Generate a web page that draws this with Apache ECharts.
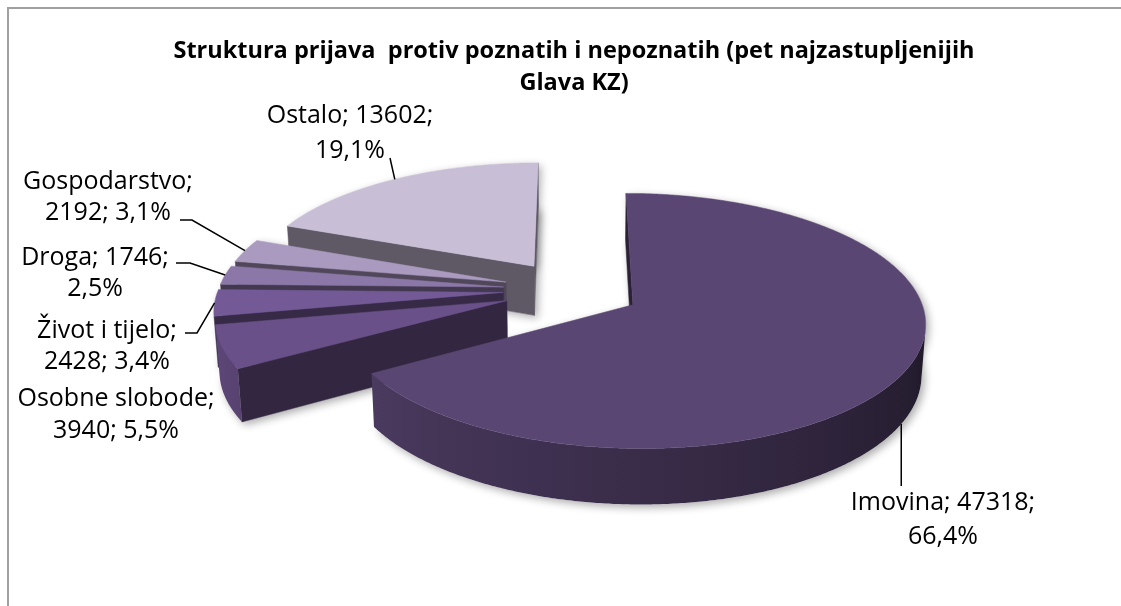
<!DOCTYPE html>
<html><head><meta charset="utf-8">
<script src="https://cdn.jsdelivr.net/npm/echarts@6/dist/echarts.min.js"></script>
<style>html,body{margin:0;padding:0;background:#fff}#chart{width:1121px;height:606px}</style>
</head><body><div id="chart"></div>
<script>
// ---- data ----
const categories = ['Imovina', 'Osobne slobode', 'Život i tijelo', 'Droga', 'Gospodarstvo', 'Ostalo'];
const values = [47318, 3940, 2428, 1746, 2192, 13602];
const titleLines = ['Struktura prijava  protiv poznatih i nepoznatih (pet najzastupljenijih', 'Glava KZ)'];

// ---- style / layout ----
const colors = ['#5A4673', '#6A5088', '#735A97', '#8C78A8', '#AA9AC0', '#C8BED6'];
const FONT = '"Open Sans", "Noto Sans", sans-serif';
const LABEL_SIZE = 25;
// label block: x center, y of first line centre, gap between lines, where the line breaks, leader points
const labelLayout = {
  'Imovina':        { x: 943, y: 503, gap: 34, brk: 'afterValue', leader: 'vertical', leaderY: 486, level: 'bottom' },
  'Osobne slobode': { x: 116, y: 399, gap: 32, brk: 'afterName', leader: null },
  'Život i tijelo': { x: 107, y: 331, gap: 31, brk: 'afterName', leader: [[185, 333], [197, 333]], level: 'top' },
  'Droga':          { x: 95,  y: 258, gap: 31, brk: 'afterValue', leader: [[176, 263], [190, 263]], level: 'top' },
  'Gospodarstvo':   { x: 108, y: 182, gap: 31, brk: 'afterName', leader: [[180, 220], [192, 220]], level: 'top' },
  'Ostalo':         { x: 350, y: 116, gap: 35, brk: 'afterValue', leader: [[390, 158]], level: 'top' }
};
// 3D view
const V = { cx: 572, cy: 290, R: 285, h: 56, beta: 25.3, D: 2064, explode: 69 };
const sinB = Math.sin(V.beta * Math.PI / 180), cosB = Math.cos(V.beta * Math.PI / 180);
const cam = [0, V.D * sinB, V.D * cosB];

function proj(p) {
  const X = p[0], Y = p[1], Z = p[2];
  const d = Z * cosB + Y * sinB;
  const k = V.D / (V.D - d);
  return [V.cx + k * X, V.cy + k * (Z * sinB - Y * cosB)];
}
const rad = a => a * Math.PI / 180;
function shadeColor(hex, f) {
  const n = parseInt(hex.slice(1), 16);
  const r = Math.round(((n >> 16) & 255) * f), g = Math.round(((n >> 8) & 255) * f), b = Math.round((n & 255) * f);
  return 'rgb(' + r + ',' + g + ',' + b + ')';
}
function dist(p) { return Math.hypot(p[0] - cam[0], p[1] - cam[1], p[2] - cam[2]); }
function visible(normalAngle, p) {
  const nx = Math.sin(rad(normalAngle)), nz = -Math.cos(rad(normalAngle));
  return nx * (cam[0] - p[0]) + nz * (cam[2] - p[2]) > 0;
}
const wallShade = a => Math.min(0.9, Math.max(0.36, 0.63 + (a - 180) / 300));
function pct(v, total) { return (v / total * 100).toFixed(1).replace('.', ',') + '%'; }

// ---- build geometry from data ----
const total = values.reduce((a, b) => a + b, 0);
const faces = [];
let acc = 0;
values.forEach((v, i) => {
  const a0 = acc / total * 360, a1 = (acc + v) / total * 360;
  acc += v;
  const m = (a0 + a1) / 2;
  const ox = V.explode * Math.sin(rad(m)), oz = -V.explode * Math.cos(rad(m));
  const P = (a, Y) => [ox + V.R * Math.sin(rad(a)), Y, oz - V.R * Math.cos(rad(a))];
  const col = colors[i];

  const steps = Math.max(4, Math.ceil((a1 - a0) / 0.5));
  const angs = [];
  for (let j = 0; j <= steps; j++) angs.push(a0 + (a1 - a0) * j / steps);
  const topPts = [proj([ox, 0, oz])].concat(angs.map(a => proj(P(a, 0))));
  const botPts = [proj([ox, -V.h, oz])].concat(angs.map(a => proj(P(a, -V.h))));

  // shadow silhouette
  [topPts, botPts].forEach(pts => faces.push({
    item: i, layer: 0, depth: 0,
    el: { type: 'polygon', shape: { points: pts }, style: { fill: '#fff', shadowBlur: 9, shadowColor: 'rgba(0,0,0,0.33)', shadowOffsetX: 3, shadowOffsetY: 3 } }
  }));

  // outer wall: one polygon over the visible angular range, shaded with a gradient
  const vis = angs.filter(a => visible(a, P(a, -V.h / 2)));
  if (vis.length > 1) {
    const wt = vis.map(a => proj(P(a, 0))), wb = vis.map(a => proj(P(a, -V.h)));
    const pts = wt.concat(wb.slice().reverse());
    const xs = pts.map(p => p[0]);
    const minx = Math.min.apply(null, xs), maxx = Math.max.apply(null, xs);
    const stops = [];
    const ns = Math.min(24, vis.length - 1);
    for (let k = 0; k <= ns; k++) {
      const a = vis[Math.round(k * (vis.length - 1) / ns)];
      const x = proj(P(a, -V.h / 2))[0];
      stops.push({ offset: Math.min(1, Math.max(0, (x - minx) / (maxx - minx || 1))), color: shadeColor(col, wallShade(a)) });
    }
    stops.sort((s1, s2) => s1.offset - s2.offset);
    const am = vis[Math.floor(vis.length / 2)];
    faces.push({
      item: i, layer: 1, depth: dist(P(am, -V.h / 2)),
      el: { type: 'polygon', shape: { points: pts }, style: { fill: new echarts.graphic.LinearGradient(0, 0, 1, 0, stops), stroke: null } }
    });
  }
  // radial side faces
  [[a0, a0 - 90], [a1, a1 + 90]].forEach(([a, n]) => {
    const o0 = [ox, 0, oz], o1 = [ox, -V.h, oz], q0 = P(a, 0), q1 = P(a, -V.h);
    const c = [(o0[0] + q0[0]) / 2, -V.h / 2, (o0[2] + q0[2]) / 2];
    if (!visible(n, c)) return;
    const fill = shadeColor(col, 0.47);
    faces.push({
      item: i, layer: 1, depth: dist(c),
      el: { type: 'polygon', shape: { points: [o0, q0, q1, o1].map(proj) }, style: { fill, stroke: fill, lineWidth: 0.5 } }
    });
  });
  // top face
  faces.push({ item: i, layer: 2, depth: 0, el: { type: 'polygon', shape: { points: topPts }, style: { fill: col, stroke: col, lineWidth: 0.5 } } });

  // label
  const L = labelLayout[categories[i]];
  const lines = L.brk === 'afterName'
    ? [categories[i] + ';', v + '; ' + pct(v, total)]
    : [categories[i] + '; ' + v + ';', pct(v, total)];
  lines.forEach((t, k) => faces.push({
    item: i, layer: 4, depth: 0,
    el: { type: 'text', style: { text: t, x: L.x, y: L.y + k * L.gap, fill: '#000', font: LABEL_SIZE + 'px ' + FONT, align: 'center', verticalAlign: 'middle' } }
  }));
  if (L.leader) {
    const anchor = proj(P(m, L.level === 'bottom' ? -V.h : 0));
    const pts = L.leader === 'vertical' ? [[anchor[0], L.leaderY], anchor] : L.leader.concat([anchor]);
    faces.push({ item: i, layer: 3, depth: 0, el: { type: 'polyline', shape: { points: pts }, style: { stroke: '#000', lineWidth: 1.5, fill: null } } });
  }
});
// painter order: layer, then far -> near
faces.sort((a, b) => a.layer - b.layer || b.depth - a.depth);
faces.forEach((f, r) => { f.el.z2 = r; });

const chart = echarts.init(document.getElementById('chart'), null, { renderer: 'canvas' });
chart.setOption({
  backgroundColor: '#fff',
  animation: false,
  title: {
    text: titleLines.join('\n'), left: 569, top: 30, textAlign: 'center',
    textStyle: { fontFamily: FONT, fontWeight: 'bold', fontSize: 23.5, lineHeight: 32, color: '#000' }
  },
  graphic: [{ type: 'rect', shape: { x: 8, y: 8, width: 1300, height: 800 }, style: { fill: null, stroke: '#A0A0A0', lineWidth: 2 }, silent: true }],
  series: [{
    type: 'custom', coordinateSystem: 'none', silent: true,
    data: values.map((v, i) => [v, i]),
    renderItem: function (params, api) {
      const i = params.dataIndex;
      return { type: 'group', children: faces.filter(f => f.item === i).map(f => f.el) };
    }
  }]
});
</script></body></html>
